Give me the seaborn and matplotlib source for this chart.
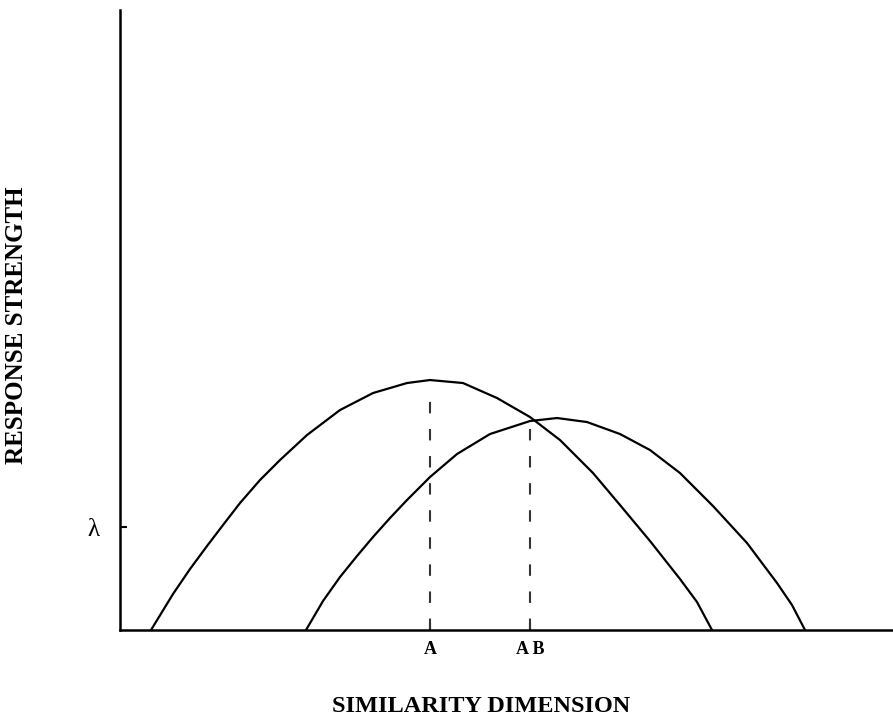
import pandas as pd
import seaborn as sns
import matplotlib.pyplot as plt

# curves (x: similarity, y: response strength)
a_x = [3.1, 4.2, 5.3, 7.0, 8.7, 10.3, 12.0, 14.0, 16.0, 18.7, 22.0, 25.3,
       28.7, 31.0, 34.3, 37.7, 41.0, 44.0, 47.3, 50.0, 53.0, 56.0, 57.7, 59.2]
a_y = [0.0, 1.8, 3.6, 6.1, 8.4, 10.5, 12.7, 15.0, 17.0, 19.5, 22.0, 23.7,
       24.7, 25.0, 24.7, 23.2, 21.3, 19.0, 15.7, 12.5, 8.9, 5.1, 2.8, 0.0]

b_x = [18.6, 20.3, 22.0, 23.7, 25.3, 27.0, 28.7, 31.0, 33.7, 37.0, 41.0,
       43.7, 46.7, 50.0, 53.0, 56.0, 59.3, 62.7, 65.7, 67.2, 68.5]
b_y = [0.0, 2.9, 5.3, 7.4, 9.3, 11.2, 13.0, 15.3, 17.6, 19.6, 20.9,
       21.2, 20.8, 19.6, 18.0, 15.7, 12.4, 8.7, 4.7, 2.5, 0.0]

peak_x = [31.0, 41.0]
peak_top = [24.0, 21.0]
tick_labels = ["A", "A B"]
lam = 10.3

df = pd.concat([
    pd.DataFrame({"x": a_x, "y": a_y, "curve": "A"}),
    pd.DataFrame({"x": b_x, "y": b_y, "curve": "B"}),
])

sns.set_style("ticks", {"axes.edgecolor": "black", "text.color": "black",
                        "xtick.color": "black", "ytick.color": "black",
                        "axes.labelcolor": "black"})
plt.rcParams["font.family"] = ["Liberation Serif", "DejaVu Serif"]

fig = plt.figure(figsize=(8.93, 7.2), dpi=100)
ax = fig.add_axes([0.1344, 0.125, 0.8656, 0.861])

sns.lineplot(
    data=df,
    x="x",
    y="y",
    hue="curve",
    palette=["black", "black"],
    sort=False,
    estimator=None,
    linewidth=1.6,
    legend=False,
    ax=ax,
)
ax.vlines(peak_x, 0, peak_top, colors="#333333", linewidth=1.5,
          linestyles=(0, (5.5, 7.5)))

ax.set_xlim(0, 77.3)
ax.set_ylim(0, 62)
sns.despine(ax=ax)
for s in ["left", "bottom"]:
    ax.spines[s].set_linewidth(1.8)

ax.set_xticks(peak_x, tick_labels)
ax.set_yticks([lam], ["λ"])
ax.tick_params(direction="in", length=5, width=1.5, labelsize=13)
ax.tick_params(axis="x", pad=8)
ax.tick_params(axis="y", pad=15, labelsize=18)
for t in ax.get_xticklabels():
    t.set_fontweight("bold")

ax.set_xlabel("SIMILARITY DIMENSION", fontsize=17.5, fontweight="bold")
ax.set_ylabel("RESPONSE STRENGTH", fontsize=18, fontweight="bold")
ax.xaxis.set_label_coords(0.467, -0.106)
ax.yaxis.set_label_coords(-0.119, 0.492)

fig.savefig("out.png", dpi=100)
